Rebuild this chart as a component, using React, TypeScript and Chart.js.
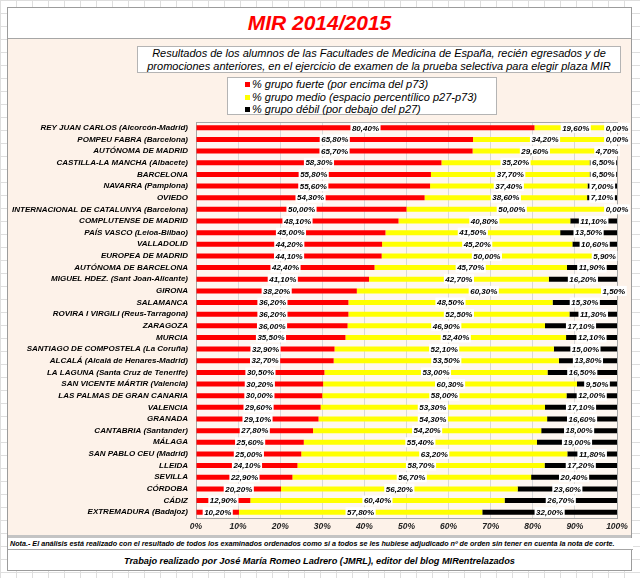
import React, { useEffect, useRef } from "react";
import { Chart, registerables } from "chart.js";

Chart.register(...registerables);

const FONT = '"Liberation Sans", Arial, Helvetica, sans-serif';

const categories = [
  "REY JUAN CARLOS (Alcorcón-Madrid)",
  "POMPEU FABRA (Barcelona)",
  "AUTÓNOMA DE MADRID",
  "CASTILLA-LA MANCHA (Albacete)",
  "BARCELONA",
  "NAVARRA (Pamplona)",
  "OVIEDO",
  "INTERNACIONAL DE CATALUNYA (Barcelona)",
  "COMPLUTENSE DE MADRID",
  "PAÍS VASCO (Leioa-Bilbao)",
  "VALLADOLID",
  "EUROPEA DE MADRID",
  "AUTÓNOMA DE BARCELONA",
  "MIGUEL HDEZ. (Sant Joan-Alicante)",
  "GIRONA",
  "SALAMANCA",
  "ROVIRA I VIRGILI (Reus-Tarragona)",
  "ZARAGOZA",
  "MURCIA",
  "SANTIAGO DE COMPOSTELA (La Coruña)",
  "ALCALÁ (Alcalá de Henares-Madrid)",
  "LA LAGUNA (Santa Cruz de Tenerife)",
  "SAN VICENTE MÁRTIR (Valencia)",
  "LAS PALMAS DE GRAN CANARIA",
  "VALENCIA",
  "GRANADA",
  "CANTABRIA (Santander)",
  "MÁLAGA",
  "SAN PABLO CEU (Madrid)",
  "LLEIDA",
  "SEVILLA",
  "CÓRDOBA",
  "CÁDIZ",
  "EXTREMADURA (Badajoz)",
];

const fuerte = [
  80.4, 65.8, 65.7, 58.3, 55.8, 55.6, 54.3, 50.0, 48.1, 45.0, 44.2, 44.1, 42.4,
  41.1, 38.2, 36.2, 36.2, 36.0, 35.5, 32.9, 32.7, 30.5, 30.2, 30.0, 29.6, 29.1,
  27.8, 25.6, 25.0, 24.1, 22.9, 20.2, 12.9, 10.2,
];

const medio = [
  19.6, 34.2, 29.6, 35.2, 37.7, 37.4, 38.6, 50.0, 40.8, 41.5, 45.2, 50.0, 45.7,
  42.7, 60.3, 48.5, 52.5, 46.9, 52.4, 52.1, 53.5, 53.0, 60.3, 58.0, 53.3, 54.3,
  54.2, 55.4, 63.2, 58.7, 56.7, 56.2, 60.4, 57.8,
];

const debil = [
  0.0, 0.0, 4.7, 6.5, 6.5, 7.0, 7.1, 0.0, 11.1, 13.5, 10.6, 5.9, 11.9, 16.2,
  1.5, 15.3, 11.3, 17.1, 12.1, 15.0, 13.8, 16.5, 9.5, 12.0, 17.1, 16.6, 18.0,
  19.0, 11.8, 17.2, 20.4, 23.6, 26.7, 32.0,
];

const seriesNames = [
  "% grupo fuerte (por encima del p73)",
  "% grupo medio (espacio percentílico p27-p73)",
  "% grupo débil (por debajo del p27)",
];
const seriesColors = ["#ff0000", "#ffff00", "#000000"];

const xTickLabels = ["0%", "10%", "20%", "30%", "40%", "50%", "60%", "70%", "80%", "90%", "100%"];

const TITLE = "MIR 2014/2015";
const SUBTITLE_1 =
  "Resultados de los alumnos de las Facultades de Medicina de España, recién egresados y de";
const SUBTITLE_2 =
  "promociones anteriores, en el ejercicio de examen de la prueba selectiva para elegir plaza MIR";
const NOTE =
  "Nota.- El análisis está realizado con el resultado de todos los examinados ordenados como si a todos se les hubiese adjudicado nº de orden sin tener en cuenta la nota de corte.";
const CREDIT =
  "Trabajo realizado por José María Romeo Ladrero (JMRL), editor del blog MIRentrelazados";

const plotBgPlugin = {
  id: "plotBg",
  beforeDraw(chart: any) {
    const { ctx, chartArea } = chart;
    ctx.save();
    ctx.fillStyle = "#fef7f1";
    ctx.fillRect(chartArea.left, chartArea.top, chartArea.right - chartArea.left, chartArea.bottom - chartArea.top);
    ctx.restore();
  },
  beforeDatasetsDraw(chart: any) {
    const { ctx, chartArea } = chart;
    ctx.save();
    ctx.strokeStyle = "#a6a6a6";
    ctx.lineWidth = 1;
    ctx.strokeRect(
      Math.round(chartArea.left) + 0.5,
      Math.round(chartArea.top) + 0.5,
      Math.round(chartArea.right - chartArea.left),
      Math.round(chartArea.bottom - chartArea.top)
    );
    ctx.restore();
  },
};

const segLabelPlugin = {
  id: "segLabels",
  afterDatasetsDraw(chart: any) {
    const ctx = chart.ctx;
    ctx.save();
    ctx.font = `italic bold 8px ${FONT}`;
    ctx.textAlign = "center";
    ctx.textBaseline = "middle";
    chart.data.datasets.forEach((ds: any, di: number) => {
      const meta = chart.getDatasetMeta(di);
      meta.data.forEach((el: any, i: number) => {
        const v = ds.data[i] as number;
        const p = el.getProps(["x", "base", "y"], true);
        const cx = (p.x + p.base) / 2;
        const txt = v.toFixed(2).replace(".", ",") + "%";
        const w = ctx.measureText(txt).width;
        ctx.fillStyle = "#ffffff";
        ctx.fillRect(cx - w / 2 - 1.5, p.y - 5, w + 3, 10);
        ctx.fillStyle = "#000000";
        ctx.fillText(txt, cx, p.y + 0.5);
      });
    });
    ctx.restore();
  },
};

function ChartCanvas() {
  const ref = useRef<HTMLCanvasElement | null>(null);
  useEffect(() => {
    if (!ref.current) return;
    const data = [fuerte, medio, debil];
    const chart = new Chart(ref.current, {
      type: "bar",
      data: {
        labels: categories,
        datasets: data.map((d, i) => ({
          label: seriesNames[i],
          data: d,
          backgroundColor: seriesColors[i],
          borderWidth: 0,
          barPercentage: 0.43,
          categoryPercentage: 1,
        })),
      },
      options: {
        indexAxis: "y",
        responsive: false,
        animation: false,
        devicePixelRatio: 1,
        layout: { padding: { left: 0, top: 122, right: 23, bottom: 0 } },
        plugins: {
          legend: { display: false },
          title: { display: false },
          tooltip: { enabled: false },
        },
        scales: {
          x: {
            stacked: true,
            min: 0,
            max: 100,
            ticks: {
              stepSize: 10,
              padding: 4,
              color: "#222222",
              font: { family: FONT, size: 8.5, style: "italic", weight: "bold" },
              callback: (_v: any, idx: number) => xTickLabels[idx],
            },
            grid: { color: "#d9d9d9", drawTicks: false },
            border: { display: false },
            afterFit: (scale: any) => {
              scale.height = 60;
            },
          },
          y: {
            stacked: true,
            ticks: {
              autoSkip: false,
              padding: 8,
              color: "#000000",
              font: { family: FONT, size: 8, style: "italic", weight: "bold" },
            },
            grid: { display: false, drawTicks: false },
            border: { display: false },
            afterFit: (scale: any) => {
              scale.width = 196;
            },
          },
        },
      } as any,
      plugins: [plotBgPlugin, segLabelPlugin],
    });
    return () => chart.destroy();
  }, []);
  return (
    <canvas
      ref={ref}
      width={640}
      height={578}
      style={{ position: "absolute", left: 0, top: 0, width: 640, height: 578 }}
    />
  );
}

export default function App() {
  const gridBg =
    "repeating-linear-gradient(to right, #dedede 0 1px, transparent 1px 16px), repeating-linear-gradient(to bottom, #dedede 0 1px, transparent 1px 13px)";
  return (
    <div
      style={{
        position: "fixed",
        left: 0,
        top: 0,
        width: 640,
        height: 578,
        background: "#ffffff",
        backgroundImage: gridBg,
        overflow: "hidden",
        fontFamily: FONT,
      }}
    >
      {/* frame */}
      <div
        style={{
          position: "absolute",
          left: 7,
          top: 7,
          width: 623,
          height: 562,
          border: "1px solid #9c9c9c",
          background: "#ffffff",
        }}
      />
      {/* title band */}
      <div
        style={{
          position: "absolute",
          left: 8,
          top: 8,
          width: 623,
          height: 30,
          borderBottom: "1px solid #a6a6a6",
          background: "#ffffff",
          textAlign: "center",
          color: "#ff0000",
          fontWeight: "bold",
          fontStyle: "italic",
          fontSize: 21,
          lineHeight: "30px",
        }}
      >
        {TITLE}
      </div>
      {/* peach chart region */}
      <div
        style={{
          position: "absolute",
          left: 8,
          top: 39,
          width: 623,
          height: 496,
          background: "#fdf2e9",
        }}
      />
      {/* separator */}
      <div
        style={{
          position: "absolute",
          left: 8,
          top: 535,
          width: 623,
          height: 3,
          background: "#c4c4c4",
        }}
      />
      {/* note row */}
      <div
        style={{
          position: "absolute",
          left: 8,
          top: 538,
          width: 623,
          height: 11,
          borderBottom: "1px solid #a6a6a6",
          background: "#ffffff",
          fontSize: 7.2,
          fontWeight: "bold",
          fontStyle: "italic",
          lineHeight: "11px",
          whiteSpace: "nowrap",
          paddingLeft: 2,
          color: "#000",
          overflow: "hidden",
        }}
      >
        {NOTE}
      </div>
      {/* credit */}
      <div
        style={{
          position: "absolute",
          left: 8,
          top: 550,
          width: 623,
          height: 20,
          textAlign: "center",
          fontSize: 9.2,
          fontWeight: "bold",
          fontStyle: "italic",
          lineHeight: "22px",
          color: "#000",
          whiteSpace: "nowrap",
        }}
      >
        {CREDIT}
      </div>
      {/* subtitle box */}
      <div
        style={{
          position: "absolute",
          left: 137,
          top: 46,
          width: 482,
          height: 25,
          border: "1px solid #b4b4b4",
          background: "#ffffff",
          textAlign: "center",
          fontSize: 11,
          fontStyle: "italic",
          lineHeight: "13px",
          paddingTop: 0,
          color: "#000",
          whiteSpace: "nowrap",
        }}
      >
        <div>{SUBTITLE_1}</div>
        <div>{SUBTITLE_2}</div>
      </div>
      {/* legend box */}
      <div
        style={{
          position: "absolute",
          left: 227,
          top: 77,
          width: 268,
          height: 36,
          border: "1px solid #b4b4b4",
          background: "#ffffff",
          fontSize: 11,
          fontStyle: "italic",
          lineHeight: "12.7px",
          color: "#000",
          whiteSpace: "nowrap",
        }}
      >
        {seriesNames.map((n, i) => (
          <div key={i} style={{ position: "relative", paddingLeft: 24 }}>
            <span
              style={{
                position: "absolute",
                left: 17,
                top: 4,
                width: 5,
                height: 5,
                background: seriesColors[i],
              }}
            />
            {n}
          </div>
        ))}
      </div>
      <ChartCanvas />
    </div>
  );
}
